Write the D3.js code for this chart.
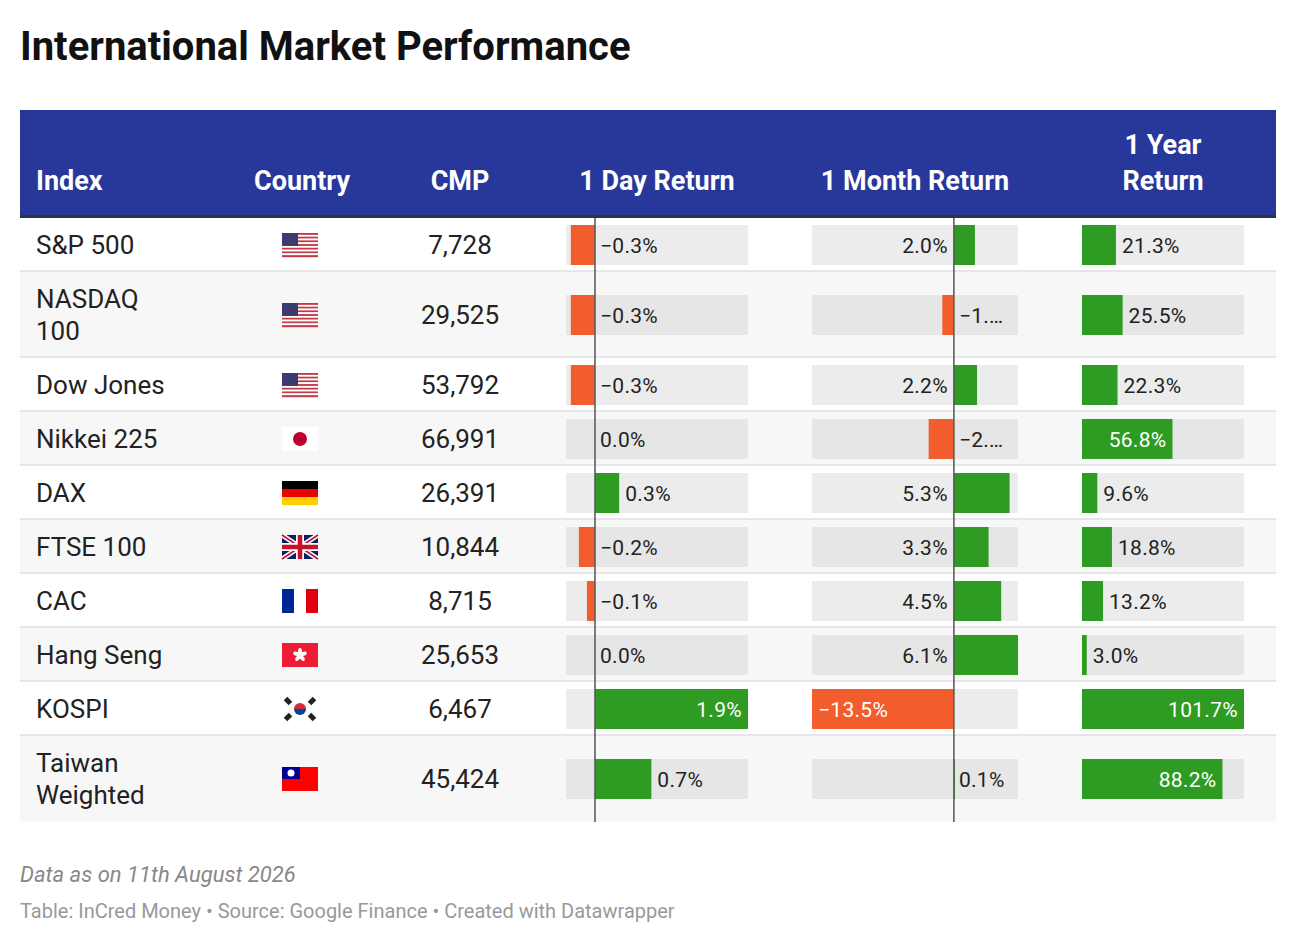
<!DOCTYPE html>
<html><head><meta charset="utf-8">
<script src="https://cdn.jsdelivr.net/npm/d3@7"></script>
<style>body{margin:0;background:#fff;font-family:Roboto,sans-serif}</style>
</head><body>
<svg id="chart" width="1296" height="944"></svg>
<script>
var indices = ["S&P 500", "NASDAQ\n100", "Dow Jones", "Nikkei 225", "DAX", "FTSE 100", "CAC", "Hang Seng", "KOSPI", "Taiwan\nWeighted"];
var countries = ["us", "us", "us", "jp", "de", "gb", "fr", "hk", "kr", "tw"];
var cmp = ["7,728", "29,525", "53,792", "66,991", "26,391", "10,844", "8,715", "25,653", "6,467", "45,424"];
var dayReturn = [-0.3, -0.3, -0.3, 0.0, 0.3, -0.2, -0.1, 0.0, 1.9, 0.7];
var monthReturn = [2.0, -1.1, 2.2, -2.4, 5.3, 3.3, 4.5, 6.1, -13.5, 0.1];
var yearReturn = [21.3, 25.5, 22.3, 56.8, 9.6, 18.8, 13.2, 3.0, 101.7, 88.2];
var rowHeights = [54, 86, 54, 54, 54, 54, 54, 54, 54, 86];

var svg = d3.select('#chart');
var L = 20, R = 1276, headTop = 110, headBot = 215;
var GREEN = '#2e9b22', ORANGE = '#f15d2d';

svg.append('text').attr('x', 20).attr('y', 60).text('International Market Performance')
  .attr('font-size', 40).attr('font-weight', 700).attr('fill', '#111');

svg.append('rect').attr('x', L).attr('y', headTop).attr('width', R - L).attr('height', headBot - headTop).attr('fill', '#27389a');
svg.append('rect').attr('x', L).attr('y', headBot).attr('width', R - L).attr('height', 3).attr('fill', '#333');

var headers = [
  {t: ['Index'], x: 36, a: 'start'}, {t: ['Country'], x: 302, a: 'middle'}, {t: ['CMP'], x: 460, a: 'middle'},
  {t: ['1 Day Return'], x: 657, a: 'middle'}, {t: ['1 Month Return'], x: 915, a: 'middle'},
  {t: ['1 Year', 'Return'], x: 1163, a: 'middle'}];
headers.forEach(function(h) {
  h.t.forEach(function(line, i) {
    svg.append('text').attr('x', h.x).attr('y', 190 - (h.t.length - 1 - i) * 36).text(line)
      .attr('text-anchor', h.a).attr('font-size', 27).attr('font-weight', 700).attr('fill', '#fff');
  });
});

var xDay = d3.scaleLinear().domain([-0.36, 1.9]).range([566, 748]);
var xMonth = d3.scaleLinear().domain([-13.5, 6.1]).range([812, 1018]);
var xYear = d3.scaleLinear().domain([0, 101.7]).range([1082, 1244]);

var fmt = function(v) { return (v < 0 ? '\u2212' : '') + Math.abs(v).toFixed(1) + '%'; };

var y0 = 218, tops = [];
rowHeights.forEach(function(h) { tops.push(y0); y0 += h; });
var bottom = y0;

function flag(g, c, x, y) {
  var w = 36, h = 24;
  var f = g.append('g').attr('transform', 'translate(' + x + ',' + y + ')');
  if (c === 'us') {
    for (var i = 0; i < 13; i++) f.append('rect').attr('y', i * h / 13).attr('width', w).attr('height', h / 13 + 0.2).attr('fill', i % 2 ? '#fff' : '#c23a47');
    f.append('rect').attr('width', 16).attr('height', 13).attr('fill', '#3c3b6e');
  } else if (c === 'jp') {
    f.append('rect').attr('width', w).attr('height', h).attr('fill', '#fff');
    f.append('circle').attr('cx', 18).attr('cy', 12).attr('r', 7).attr('fill', '#bc002d');
  } else if (c === 'de') {
    ['#000', '#e00', '#ffce00'].forEach(function(col, i) { f.append('rect').attr('y', i * 8).attr('width', w).attr('height', 8).attr('fill', col); });
  } else if (c === 'gb') {
    f.append('rect').attr('width', w).attr('height', h).attr('fill', '#012169');
    f.append('path').attr('d', 'M0,0L36,24M36,0L0,24').attr('stroke', '#fff').attr('stroke-width', 5);
    f.append('path').attr('d', 'M0,0L36,24M36,0L0,24').attr('stroke', '#c8102e').attr('stroke-width', 1.6);
    f.append('path').attr('d', 'M18,0V24M0,12H36').attr('stroke', '#fff').attr('stroke-width', 8);
    f.append('path').attr('d', 'M18,0V24M0,12H36').attr('stroke', '#c8102e').attr('stroke-width', 4.5);
  } else if (c === 'fr') {
    ['#002395', '#fff', '#e1000f'].forEach(function(col, i) { f.append('rect').attr('x', i * 12).attr('width', 12).attr('height', h).attr('fill', col); });
  } else if (c === 'hk') {
    f.append('rect').attr('width', w).attr('height', h).attr('fill', '#ee1c35');
    for (var k = 0; k < 5; k++) {
      var a = k * 72 * Math.PI / 180;
      f.append('ellipse').attr('cx', 18 + 3.5 * Math.sin(a)).attr('cy', 12 - 3.5 * Math.cos(a)).attr('rx', 2).attr('ry', 3.5)
        .attr('transform', 'rotate(' + (k * 72) + ',' + (18 + 3.5 * Math.sin(a)) + ',' + (12 - 3.5 * Math.cos(a)) + ')').attr('fill', '#fff');
    }
  } else if (c === 'kr') {
    f.append('rect').attr('width', w).attr('height', h).attr('fill', '#fff');
    f.append('path').attr('d', 'M12,12A6,6 0 0 1 24,12Z').attr('fill', '#cd2e3a');
    f.append('path').attr('d', 'M12,12A6,6 0 0 0 24,12Z').attr('fill', '#0047a0');
    [[6, 4, 45], [30, 4, -45], [6, 20, -45], [30, 20, 45]].forEach(function(p) {
      f.append('rect').attr('x', p[0] - 3.5).attr('y', p[1] - 2.5).attr('width', 7).attr('height', 5).attr('fill', '#222')
        .attr('transform', 'rotate(' + p[2] + ',' + p[0] + ',' + p[1] + ')');
    });
  } else if (c === 'tw') {
    f.append('rect').attr('width', w).attr('height', h).attr('fill', '#fe0000');
    f.append('rect').attr('width', 18).attr('height', 12).attr('fill', '#000095');
    f.append('circle').attr('cx', 9).attr('cy', 6).attr('r', 3.5).attr('fill', '#fff');
  }
}

function truncate(textSel, maxW) {
  var node = textSel.node(), s = textSel.text();
  if (node.getComputedTextLength() <= maxW) return;
  while (s.length > 1) {
    s = s.slice(0, -1);
    textSel.text(s + '\u2026');
    if (node.getComputedTextLength() <= maxW) return;
  }
}

var FS = 21;
indices.forEach(function(name, i) {
  var top = tops[i], h = rowHeights[i], cy = top + h / 2;
  var grey = i % 2 === 1;
  svg.append('rect').attr('x', L).attr('y', top).attr('width', R - L).attr('height', h).attr('fill', grey ? '#f7f7f7' : '#fff');
  if (i > 0) svg.append('rect').attr('x', L).attr('y', top - 2).attr('width', R - L).attr('height', 2).attr('fill', '#e6e6e6');
  var lines = name.split('\n');
  lines.forEach(function(l, j) {
    svg.append('text').attr('x', 36).attr('y', cy + 9 + (j - (lines.length - 1) / 2) * 32).text(l)
      .attr('font-size', 26).attr('fill', '#222');
  });
  flag(svg, countries[i], 282, cy - 12);
  svg.append('text').attr('x', 460).attr('y', cy + 9).text(cmp[i]).attr('text-anchor', 'middle').attr('font-size', 26).attr('fill', '#222');

  var bg = grey ? '#e6e6e6' : '#ececec';
  var by = cy - 20, bh = 40;
  function bars(x, v, rule) {
    var r = x.range();
    svg.append('rect').attr('x', r[0]).attr('y', by).attr('width', r[1] - r[0]).attr('height', bh).attr('fill', bg);
    var z = x(0), e = x(v);
    svg.append('rect').attr('x', Math.min(z, e)).attr('y', by).attr('width', Math.abs(e - z)).attr('height', bh)
      .attr('fill', v < 0 ? ORANGE : GREEN);
    var pos = rule(v, z, e, r);
    var t = svg.append('text').attr('x', pos.x).attr('y', cy + 8).text(fmt(v)).attr('text-anchor', pos.a)
      .attr('font-size', FS).attr('fill', pos.white ? '#fff' : '#222').attr('letter-spacing', 0.3);
    if (pos.max) truncate(t, pos.max);
  }
  bars(xDay, dayReturn[i], function(v, z, e, r) {
    if (v > 1.2) return {x: e - 6, a: 'end', white: true};
    if (v > 0) return {x: e + 6, a: 'start'};
    return {x: z + 5, a: 'start'};
  });
  bars(xMonth, monthReturn[i], function(v, z, e, r) {
    if (v > 0.5) return {x: z - 6, a: 'end'};
    if (v < -8) return {x: e + 6, a: 'start', white: true};
    return {x: z + 5, a: 'start', max: r[1] - z - 8};
  });
  bars(xYear, yearReturn[i], function(v, z, e, r) {
    if (v > 50) return {x: e - 6, a: 'end', white: true};
    return {x: e + 6, a: 'start'};
  });
});

[xDay(0), xMonth(0)].forEach(function(x) {
  svg.append('line').attr('x1', x).attr('x2', x).attr('y1', headBot + 3).attr('y2', bottom).attr('stroke', '#555').attr('stroke-width', 1.5);
});

svg.append('text').attr('x', 20).attr('y', 882).text('Data as on 11th August 2026')
  .attr('font-size', 22).attr('font-style', 'italic').attr('fill', '#888');
svg.append('text').attr('x', 20).attr('y', 918).text('Table: InCred Money \u2022 Source: Google Finance \u2022 Created with Datawrapper')
  .attr('font-size', 20).attr('fill', '#999');
</script>
</body></html>
